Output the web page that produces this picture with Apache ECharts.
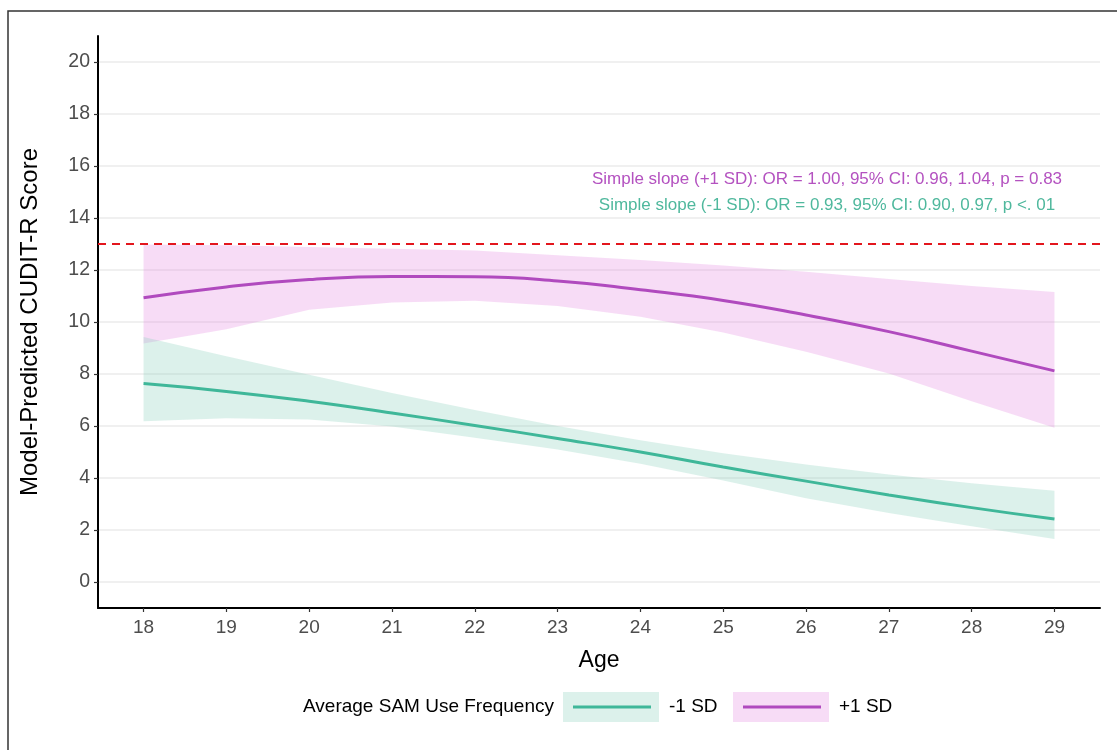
<!DOCTYPE html>
<html>
<head>
<meta charset="utf-8">
<script src="https://cdn.jsdelivr.net/npm/echarts@6/dist/echarts.min.js"></script>
<style>
html,body{margin:0;padding:0;background:#fff;}
#chart{width:1117px;height:750px;}
</style>
</head>
<body>
<div id="chart"></div>
<script>
// ---- data ----
const ages = [18, 19, 20, 21, 22, 23, 24, 25, 26, 27, 28, 29];
const yTicks = [0, 2, 4, 6, 8, 10, 12, 14, 16, 18, 20];
const plusFit   = [10.93, 11.35, 11.63, 11.75, 11.74, 11.58, 11.24, 10.83, 10.27, 9.63, 8.88, 8.12];
const plusLower = [9.17, 9.72, 10.47, 10.75, 10.82, 10.62, 10.20, 9.60, 8.86, 8.02, 6.95, 5.93];
const plusUpper = [12.98, 12.95, 12.88, 12.82, 12.75, 12.57, 12.38, 12.17, 11.93, 11.65, 11.38, 11.15];
const minusFit   = [7.63, 7.33, 6.95, 6.50, 6.02, 5.52, 5.00, 4.42, 3.88, 3.35, 2.86, 2.42];
const minusLower = [6.18, 6.30, 6.25, 5.98, 5.55, 5.10, 4.55, 3.90, 3.22, 2.65, 2.14, 1.65];
const minusUpper = [9.42, 8.68, 7.97, 7.27, 6.62, 6.00, 5.45, 4.95, 4.52, 4.13, 3.80, 3.51];
const cutoff = 13;
const seriesNames = ['-1 SD', '+1 SD'];
const legendTitle = 'Average SAM Use Frequency';
const notePlus = 'Simple slope (+1 SD): OR = 1.00, 95% CI: 0.96, 1.04, p = 0.83';
const noteMinus = 'Simple slope (-1 SD): OR = 0.93, 95% CI: 0.90, 0.97, p <. 01';

// ---- styles ----
const FONT = '"Liberation Sans", Arial, sans-serif';
const greenLine = '#3fb799';
const purpleLine = '#b04abe';
const greenFill = 'rgba(140,210,190,0.30)';
const purpleFill = 'rgba(230,140,225,0.30)';

function pairs(ys) { return ages.map((a, i) => [a, ys[i]]); }

function bandSeries(name, lower, upper, fill) {
  return {
    type: 'custom',
    name: name,
    silent: true,
    clip: true,
    z: 1,
    data: [[ages[0], lower[0]]],
    renderItem: function (params, api) {
      const pts = [];
      for (let i = 0; i < ages.length; i++) pts.push(api.coord([ages[i], upper[i]]));
      for (let i = ages.length - 1; i >= 0; i--) pts.push(api.coord([ages[i], lower[i]]));
      return { type: 'polygon', shape: { points: pts }, style: { fill: fill, stroke: null } };
    }
  };
}

const chart = echarts.init(document.getElementById('chart'), null, { renderer: 'canvas' });

const legendY = 707;
const option = {
  backgroundColor: '#ffffff',
  animation: false,
  textStyle: { fontFamily: FONT },
  grid: { left: 98, right: 17, top: 36, bottom: 142, containLabel: false },
  xAxis: {
    type: 'value',
    min: 17.45,
    max: 29.55,
    name: 'Age',
    nameLocation: 'middle',
    nameGap: 41,
    nameTextStyle: { fontSize: 23, color: '#000', fontFamily: FONT },
    axisLine: { show: true, onZero: false, lineStyle: { color: '#000', width: 2 } },
    axisTick: { show: true, length: 4, lineStyle: { color: '#333', width: 1.2 }, customValues: ages },
    axisLabel: { customValues: ages, fontSize: 19, color: '#4d4d4d', margin: 10, fontFamily: FONT },
    splitLine: { show: false }
  },
  yAxis: {
    type: 'value',
    min: -1,
    max: 21,
    name: 'Model-Predicted CUDIT-R Score',
    nameLocation: 'middle',
    nameGap: 56,
    nameTextStyle: { fontSize: 24, color: '#000', fontFamily: FONT },
    axisLine: { show: true, onZero: false, lineStyle: { color: '#000', width: 2 } },
    axisTick: { show: true, length: 4, lineStyle: { color: '#333', width: 1.2 }, customValues: yTicks },
    axisLabel: { customValues: yTicks, fontSize: 19.5, color: '#4d4d4d', margin: 8, fontFamily: FONT },
    splitLine: { show: true, lineStyle: { color: '#ebebeb', width: 1.5 } }
  },
  series: [
    bandSeries(seriesNames[1] + ' CI', plusLower, plusUpper, purpleFill),
    bandSeries(seriesNames[0] + ' CI', minusLower, minusUpper, greenFill),
    {
      type: 'line',
      name: seriesNames[0],
      data: pairs(minusFit),
      showSymbol: false,
      smooth: 0.5,
      z: 3,
      lineStyle: { color: greenLine, width: 3 },
      itemStyle: { color: greenLine }
    },
    {
      type: 'line',
      name: seriesNames[1],
      data: pairs(plusFit),
      showSymbol: false,
      smooth: 0.5,
      z: 3,
      lineStyle: { color: purpleLine, width: 3 },
      itemStyle: { color: purpleLine },
      markLine: {
        silent: true,
        symbol: ['none', 'none'],
        label: { show: false },
        lineStyle: { color: '#e3161d', type: [8, 6], width: 1.8 },
        data: [{ yAxis: cutoff }]
      }
    }
  ],
  graphic: [
    { type: 'rect', shape: { x: 8, y: 11, width: 1130, height: 770 }, style: { fill: null, stroke: '#333', lineWidth: 1.5 }, silent: true },
    { type: 'text', x: 827, y: 179, style: { text: notePlus, fill: '#b452c0', fontSize: 17, fontFamily: FONT, align: 'center', verticalAlign: 'middle' } },
    { type: 'text', x: 827, y: 205, style: { text: noteMinus, fill: '#4fb89d', fontSize: 17, fontFamily: FONT, align: 'center', verticalAlign: 'middle' } },
    { type: 'text', x: 303, y: legendY, style: { text: legendTitle, fill: '#000', fontSize: 19, fontFamily: FONT, align: 'left', verticalAlign: 'middle' } },
    { type: 'rect', shape: { x: 563, y: legendY - 15, width: 96, height: 30 }, style: { fill: greenFill } },
    { type: 'line', shape: { x1: 573, y1: legendY, x2: 651, y2: legendY }, style: { stroke: greenLine, lineWidth: 3 } },
    { type: 'text', x: 669, y: legendY, style: { text: seriesNames[0], fill: '#000', fontSize: 19, fontFamily: FONT, align: 'left', verticalAlign: 'middle' } },
    { type: 'rect', shape: { x: 733, y: legendY - 15, width: 96, height: 30 }, style: { fill: purpleFill } },
    { type: 'line', shape: { x1: 743, y1: legendY, x2: 821, y2: legendY }, style: { stroke: purpleLine, lineWidth: 3 } },
    { type: 'text', x: 839, y: legendY, style: { text: seriesNames[1], fill: '#000', fontSize: 19, fontFamily: FONT, align: 'left', verticalAlign: 'middle' } }
  ]
};
chart.setOption(option);
</script>
</body>
</html>
